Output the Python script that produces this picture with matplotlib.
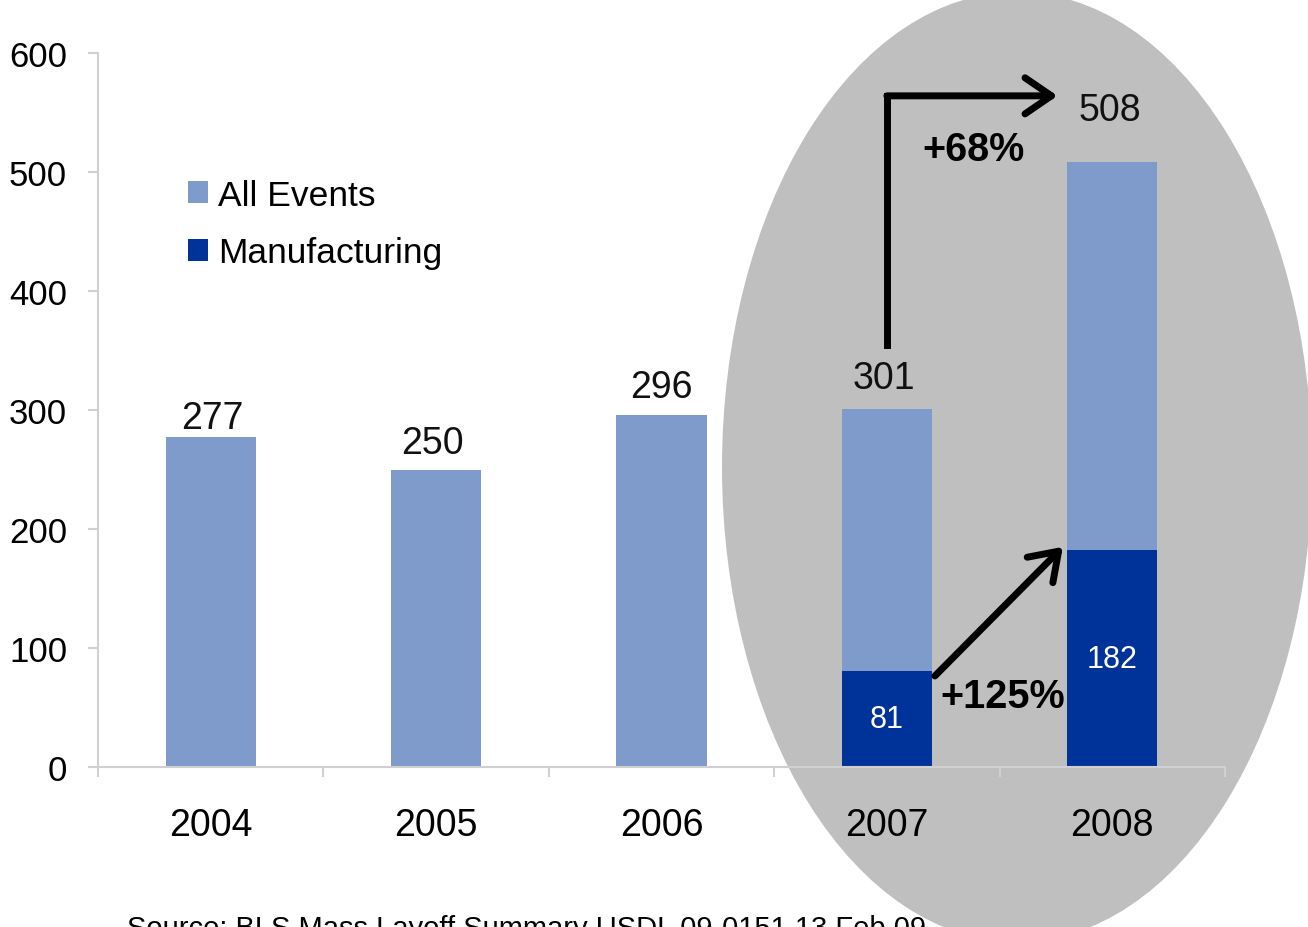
import numpy as np
import matplotlib.pyplot as plt
from matplotlib.patches import Ellipse

plt.rcParams['font.family'] = ['Liberation Sans', 'DejaVu Sans']

# data
years = ['2004', '2005', '2006', '2007', '2008']
all_events = [277, 250, 296, 301, 508]
manufacturing = [0, 0, 0, 81, 182]
growth_all = '+68%'
growth_mfg = '+125%'
source = 'Source: BLS Mass Layoff Summary USDL 09-0151 13 Feb 09'

LIGHT = '#7f9bcc'
DARK = '#003399'
AXIS_GREY = '#d0d0d0'

fig = plt.figure(figsize=(13.08, 9.28), dpi=100)
ax = fig.add_axes([98 / 1308, 160 / 928, 1127 / 1308, 714 / 928])

# grey highlight ellipse (in inches, behind everything)
ell = Ellipse((10.17, 4.60), 5.9, 9.5, transform=fig.dpi_scale_trans,
              facecolor='#bfbfbf', edgecolor='none', zorder=0.5, clip_on=False)
ax.add_patch(ell)

x = np.arange(len(years))
mfg = np.array(manufacturing)
tot = np.array(all_events)
ax.bar(x, tot - mfg, bottom=mfg, width=0.4, color=LIGHT, label='All Events', zorder=2)
ax.bar(x[3:], mfg[3:], width=0.4, color=DARK, label='Manufacturing', zorder=2)

# value labels above bars (offsets in pixels)
label_dx = [2, -4, 0, -3, -2]
label_dy = [19, 26, 28, 31, 52]
for i, v in enumerate(all_events):
    ax.annotate(str(v), (x[i], v), xytext=(label_dx[i], label_dy[i]),
                textcoords='offset pixels', ha='center', va='center',
                fontsize=27, color='#111111', zorder=4)

# white labels inside manufacturing bars
for i in x[3:]:
    ax.text(i, mfg[i] / 2, str(mfg[i]), ha='center', va='center',
            fontsize=22, color='white', zorder=4)

arrow_style = dict(arrowstyle='->,head_length=0.95,head_width=0.65', lw=5,
                   color='black', shrinkA=0, shrinkB=0, mutation_scale=20,
                   capstyle='round', joinstyle='round')

# elbow arrow 2007 -> 2008 total
ax.plot([3, 3], [355, 564], color='black', lw=5, solid_capstyle='projecting', zorder=5)
ax.annotate('', xy=(3.757, 564), xytext=(3, 564), arrowprops=arrow_style, zorder=5)
ax.text(3.382, 519, growth_all, ha='center', va='center', fontsize=28.5,
        fontweight='bold', zorder=5)

# manufacturing arrow
ax.annotate('', xy=(3.781, 185), xytext=(3.213, 76.5), arrowprops=arrow_style, zorder=5)
ax.text(3.515, 59.7, growth_mfg, ha='center', va='center', fontsize=28.5,
        fontweight='bold', zorder=5)

ax.set_xlim(-0.5, 4.5)
ax.set_ylim(0, 600)
ax.set_xticks(x)
ax.set_xticklabels(years, fontsize=27)
ax.set_xticks(np.arange(-0.5, 5), minor=True)
ax.set_yticks(range(0, 700, 100))
ax.tick_params(axis='x', which='major', length=0, pad=29)
ax.tick_params(axis='x', which='minor', length=7.2, width=1.5, color=AXIS_GREY)
ax.tick_params(axis='y', length=7.2, width=1.5, color=AXIS_GREY, pad=15, labelsize=25)

for s in ['top', 'right']:
    ax.spines[s].set_visible(False)
for s in ['left', 'bottom']:
    ax.spines[s].set_color(AXIS_GREY)
    ax.spines[s].set_linewidth(1.5)
ax.set_facecolor('none')

ax.legend(loc='upper left', bbox_to_anchor=(0.0799, 0.824), frameon=False, fontsize=25.5,
          handlelength=0.55, handleheight=0.55, handletextpad=0.3, labelspacing=0.7,
          borderpad=0, borderaxespad=0)

fig.text(127 / 1308, -0.0097, source, fontsize=21, ha='left', va='baseline')

fig.savefig('out.png', dpi=100)
